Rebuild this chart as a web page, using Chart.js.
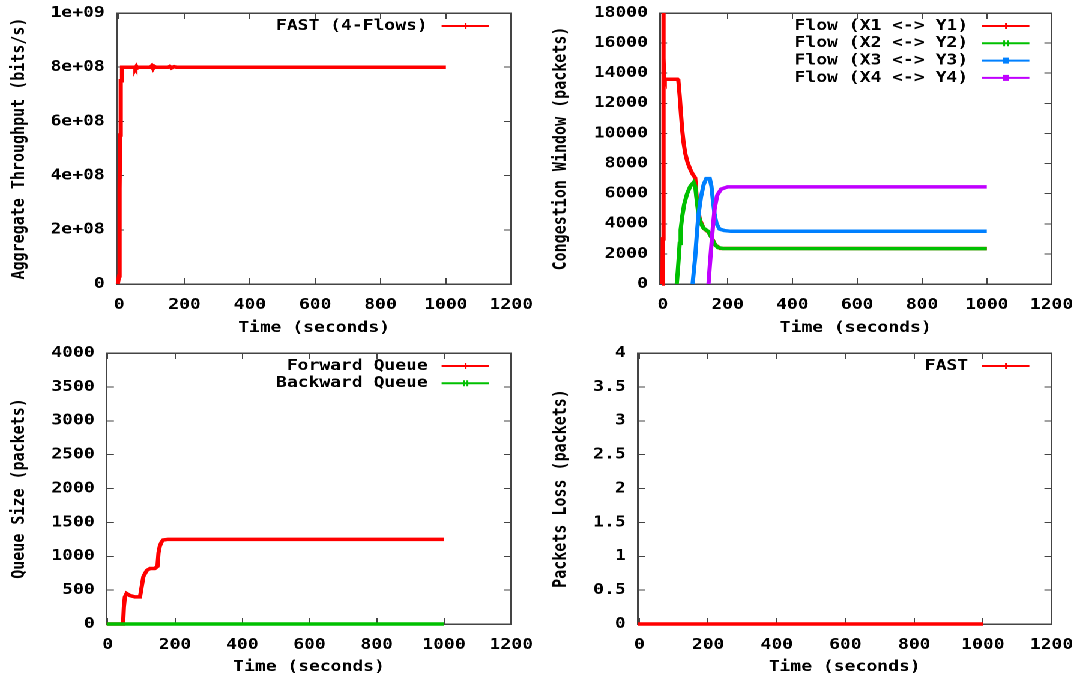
<!DOCTYPE html>
<html>
<head>
<meta charset="utf-8">
<title>FAST - 4 flows</title>
<script src="https://cdn.jsdelivr.net/npm/chart.js@4.4.0/dist/chart.umd.min.js"></script>
<style>
  body { margin: 0; background: #fff; overflow: hidden; }
  /* the original gnuplot image was stretched sideways, so draw narrow and widen */
  #wrap { position: absolute; left: 0; top: 0; width: 902px; height: 678px; transform: scaleX(1.2007); transform-origin: 0 0; }
  #wrap canvas { position: absolute; }
</style>
</head>
<body>
<div id="wrap">
  <canvas id="c1" width="451" height="339" style="left:0;top:0"></canvas>
  <canvas id="c2" width="451" height="339" style="left:451px;top:0"></canvas>
  <canvas id="c3" width="451" height="339" style="left:0;top:339px"></canvas>
  <canvas id="c4" width="451" height="339" style="left:451px;top:339px"></canvas>
</div>
<script>
// x axis ticks (same on all four plots)
var timeTicks = [0, 200, 400, 600, 800, 1000, 1200];
var timeLabels = ['0', '200', '400', '600', '800', '1000', '1200'];

// aggregate throughput
var thruTime = [-4, 0, 1, 2, 3, 4, 6, 8, 9, 30, 48, 50, 53, 56, 60, 96, 100, 104, 108, 112, 150, 155, 160, 168, 175, 1000];
var thruBits = [0, 3e7, 1.2e8, 3.5e8, 5.5e8, 7e8, 7.5e8, 7.5e8, 8e8, 8e8, 8e8, 7.96e8, 8.03e8, 7.97e8, 8e8, 8e8, 8.05e8, 7.95e8, 8.03e8, 8e8, 8e8, 8.03e8, 7.97e8, 8.02e8, 8e8, 8e8];
var thruTicks = [0, 2e8, 4e8, 6e8, 8e8, 1e9];
var thruLabels = ['0', '2e+08', '4e+08', '6e+08', '8e+08', '1e+09'];

// congestion windows
var cwnd1Time = [-3, -1, 0, 1, 2, 2.5, 3, 4, 6, 45, 48, 52, 56, 60, 64, 69, 76, 85, 92, 100, 105, 114, 126, 141, 152, 162, 177, 1000];
var cwnd1 = [0, 600, 3000, 8000, 13000, 18000, 15000, 13700, 13600, 13600, 13500, 12500, 11300, 10200, 9400, 8700, 8100, 7600, 7300, 7050, 5600, 4300, 3700, 3450, 3030, 2590, 2370, 2350];
var cwnd2Time = [43, 46, 49, 52, 55, 60, 66, 75, 85, 95, 100, 104, 110, 118, 126, 140, 150, 160, 170, 185, 1000];
var cwnd2 = [0, 800, 1700, 2700, 3600, 4500, 5300, 6000, 6500, 6750, 6500, 5700, 4600, 4000, 3700, 3500, 3100, 2650, 2420, 2360, 2350];
var cwnd3Time = [92, 95, 100, 105, 110, 118, 126, 134, 145, 150, 155, 160, 166, 175, 190, 210, 1000];
var cwnd3 = [0, 700, 1800, 3300, 4600, 5800, 6600, 7000, 7000, 6500, 5500, 4600, 4000, 3650, 3550, 3500, 3500];
var cwnd4Time = [141, 145, 150, 155, 160, 168, 180, 200, 1000];
var cwnd4 = [0, 1200, 2600, 3900, 5000, 5900, 6300, 6450, 6450];
var cwndTicks = [0, 2000, 4000, 6000, 8000, 10000, 12000, 14000, 16000, 18000];
var cwndLabels = ['0', '2000', '4000', '6000', '8000', '10000', '12000', '14000', '16000', '18000'];

// queues
var fwdTime = [-3, 44, 46, 48, 51, 56, 66, 81, 96, 101, 106, 116, 126, 140, 148, 151, 155, 160, 165, 180, 1000];
var fwdQueue = [0, 0, 30, 250, 400, 450, 420, 400, 400, 550, 700, 790, 820, 820, 850, 1050, 1150, 1210, 1240, 1250, 1250];
var bwdTime = [-3, 1000];
var bwdQueue = [0, 0];
var queueTicks = [0, 500, 1000, 1500, 2000, 2500, 3000, 3500, 4000];
var queueLabels = ['0', '500', '1000', '1500', '2000', '2500', '3000', '3500', '4000'];

// packet loss
var lossTime = [-5, 1000];
var lossPkts = [0, 0];
var lossTicks = [0, 0.5, 1, 1.5, 2, 2.5, 3, 3.5, 4];
var lossLabels = ['0', '0.5', '1', '1.5', '2', '2.5', '3', '3.5', '4'];

var frameColor = '#444';
Chart.defaults.font.family = '"DejaVu Sans Mono", monospace';
Chart.defaults.font.size = 15;
Chart.defaults.font.weight = 'bold';
Chart.defaults.color = '#000';

function pts(t, v) {
  return t.map(function (x, i) { return { x: x, y: v[i] }; });
}

// gnuplot style key: text right aligned, sample line on its right
var gnuKey = {
  id: 'gnuKey',
  afterDraw: function (chart) {
    var ctx = chart.ctx, area = chart.chartArea;
    ctx.save();
    ctx.font = 'bold 15px "DejaVu Sans Mono", monospace';
    ctx.textAlign = 'right';
    ctx.textBaseline = 'middle';
    chart.data.datasets.forEach(function (ds, i) {
      var y = area.top + 13 + i * 17.3;
      var mx = area.right - 38;
      ctx.fillStyle = '#000';
      ctx.fillText(ds.label, area.right - 69.5, y);
      ctx.strokeStyle = ds.borderColor;
      ctx.fillStyle = ds.borderColor;
      ctx.lineWidth = 2;
      ctx.beginPath();
      ctx.moveTo(area.right - 58, y);
      ctx.lineTo(area.right - 18.5, y);
      ctx.stroke();
      ctx.lineWidth = 1.5;
      ctx.beginPath();
      if (ds.keyMark === 'plus') {
        ctx.moveTo(mx, y - 3); ctx.lineTo(mx, y + 3);
      } else if (ds.keyMark === 'cross') {
        ctx.moveTo(mx - 1.5, y - 3); ctx.lineTo(mx - 1.5, y + 3);
        ctx.moveTo(mx + 1.5, y - 3); ctx.lineTo(mx + 1.5, y + 3);
      }
      ctx.stroke();
      if (ds.keyMark === 'box') ctx.fillRect(mx - 2.5, y - 3, 5, 6);
    });
    ctx.restore();
  }
};

// plot frame is placed by hand, so drop the label overhang padding
function noPad(a) {
  a.paddingLeft = 0; a.paddingRight = 0; a.paddingTop = 0; a.paddingBottom = 0;
}

function xAxis(min, height, show) {
  return {
    type: 'linear', position: show ? 'bottom' : 'top', min: min, max: 1200,
    afterBuildTicks: function (a) { a.ticks = timeTicks.map(function (v) { return { value: v }; }); },
    afterFit: function (a) { a.height = height; noPad(a); },
    grid: { drawOnChartArea: false, tickLength: -6, color: frameColor },
    border: { color: frameColor, width: 1.5 },
    ticks: { display: show, padding: 18, autoSkip: false, maxRotation: 0,
      callback: function (v) { return timeLabels[timeTicks.indexOf(v)]; } },
    title: { display: show, text: 'Time (seconds)', padding: { top: 0, bottom: 2 } }
  };
}

function yAxis(vals, labels, width, show, text) {
  return {
    type: 'linear', position: show ? 'left' : 'right', min: vals[0], max: vals[vals.length - 1],
    afterBuildTicks: function (a) { a.ticks = vals.map(function (v) { return { value: v }; }); },
    afterFit: function (a) { a.width = width; noPad(a); },
    grid: { drawOnChartArea: false, tickLength: -6, color: frameColor },
    border: { color: frameColor, width: 1.5 },
    ticks: { display: show, padding: 16, autoSkip: false,
      callback: function (v) { return labels[vals.indexOf(v)]; } },
    title: { display: show, text: text, padding: { top: 7, bottom: 0 } }
  };
}

function line(label, t, v, color, mark, order) {
  return { label: label, data: pts(t, v), borderColor: color, backgroundColor: color,
    borderWidth: 3.5, pointRadius: 0, tension: 0, keyMark: mark, order: order, clip: false };
}

function makeChart(id, sets, box) {
  return new Chart(document.getElementById(id), {
    type: 'line',
    data: { datasets: sets },
    options: {
      responsive: false,
      animation: false,
      devicePixelRatio: 2,
      layout: { autoPadding: false, padding: { left: 0, top: box.top, right: box.right, bottom: 0 } },
      plugins: { legend: { display: false }, tooltip: { enabled: false } },
      scales: {
        x: xAxis(box.xmin, box.xh, true),
        y: yAxis(box.ticks, box.labels, box.yw, true, box.title),
        x2: xAxis(box.xmin, 0, false),
        y2: yAxis(box.ticks, box.labels, 0, false, '')
      }
    },
    plugins: [gnuKey]
  });
}

makeChart('c1', [
  line('FAST (4-Flows)', thruTime, thruBits, '#ff0000', 'plus', 1)
], { xmin: -7, top: 13, right: 25.2, xh: 55, yw: 97.3, ticks: thruTicks, labels: thruLabels, title: 'Aggregate Throughput (bits/s)' });

makeChart('c2', [
  line('Flow (X1 <-> Y1)', cwnd1Time, cwnd1, '#ff0000', 'plus', 4),
  line('Flow (X2 <-> Y2)', cwnd2Time, cwnd2, '#00c000', 'cross', 3),
  line('Flow (X3 <-> Y3)', cwnd3Time, cwnd3, '#0080ff', 'box', 2),
  line('Flow (X4 <-> Y4)', cwnd4Time, cwnd4, '#c000ff', 'box', 1)
], { xmin: -9, top: 13, right: 26.2, xh: 55, yw: 98.6, ticks: cwndTicks, labels: cwndLabels, title: 'Congestion Window (packets)' });

makeChart('c3', [
  line('Forward Queue', fwdTime, fwdQueue, '#ff0000', 'plus', 2),
  line('Backward Queue', bwdTime, bwdQueue, '#00c000', 'cross', 1)
], { xmin: -3, top: 14, right: 25.2, xh: 54, yw: 88.9, ticks: queueTicks, labels: queueLabels, title: 'Queue Size (packets)' });

makeChart('c4', [
  line('FAST', lossTime, lossPkts, '#ff0000', 'plus', 1)
], { xmin: -5, top: 14, right: 26.2, xh: 54, yw: 80.1, ticks: lossTicks, labels: lossLabels, title: 'Packets Loss (packets)' });
</script>
</body>
</html>
